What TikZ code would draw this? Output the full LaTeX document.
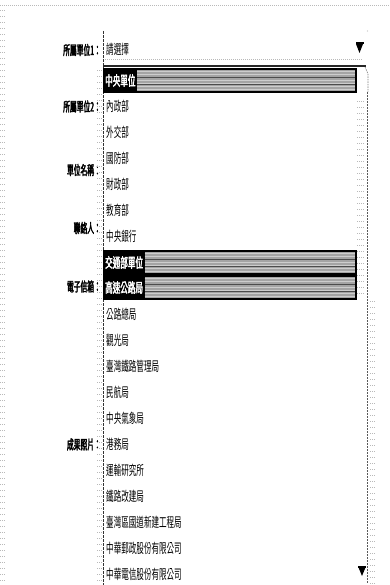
\documentclass[tikz,border=0pt]{standalone}
\usepackage{fontspec}
\newfontfamily\cjk[FakeStretch=0.56]{Noto Sans CJK TC}
\newfontfamily\cjkb[FakeStretch=0.52,FakeBold=2.5]{Noto Sans CJK TC}
\newfontfamily\cjkbb[FakeStretch=0.56,FakeBold=2.5]{Noto Sans CJK TC}
\definecolor{bandgray}{HTML}{A4A4A4}
\definecolor{bandlite}{HTML}{CDCDCD}
\tikzset{
  item/.style={anchor=west, inner sep=0pt, font=\cjk\fontsize{13.5}{13.5}\selectfont},
  lab/.style={anchor=east, inner sep=0pt, font=\cjkb\fontsize{13}{13}\selectfont},
  bandtext/.style={anchor=west, inner sep=0pt, text=white, font=\cjkbb\fontsize{13.5}{13.5}\selectfont},
  faint/.style={gray!55, line width=0.5pt, dash pattern=on 1pt off 1pt},
  border/.style={black!80, line width=0.8pt, dash pattern=on 3pt off 1pt},
}
\newcommand{\band}[2]{%
  \fill[black] (103,#1) rectangle (357,#1+25);
  \node[bandtext] (#2) at (105,#1+12.5) {\csname bandlabel#2\endcsname};
  \fill[bandgray] ([xshift=1.5pt]#2.east |- 0,#1+2) rectangle (355,#1+23);
  \foreach \k in {0,1,...,6}{
    \draw[bandlite, line width=0.7pt] ([xshift=1.5pt]#2.east |- 0,#1+3.5+\k*3) -- (355,#1+3.5+\k*3);
  }
  \draw[black!70, line width=0.7pt] ([xshift=1.5pt]#2.east |- 0,#1+9) -- (355,#1+9);
  \draw[black!70, line width=0.7pt] ([xshift=1.5pt]#2.east |- 0,#1+16) -- (355,#1+16);
}
\def\bandlabelbA{中央單位}
\def\bandlabelbB{交通部單位}
\def\bandlabelbC{高速公路局}
\begin{document}
\begin{tikzpicture}[x=1pt,y=-1pt]
\useasboundingbox (0,0) rectangle (390,585);
\fill[white] (0,0) rectangle (390,585);
% page frame
\draw[faint] (0,5) -- (390,5);
\foreach \y in {10,16,...,585}{ \draw[faint] (0,\y) -- (5,\y); }
% labels
\node[lab] (l1) at (101,50) {所屬單位1：};
\node[lab] (l2) at (101,106.5) {所屬單位2：};
\node[lab] (l3) at (101,170) {單位名稱：};
\node[lab] (l4) at (101,228) {聯絡人：};
\node[lab] (l5) at (101,286.5) {電子信箱：};
\node[lab] (l6) at (101,444.5) {成果照片：};
% combo box
\node[item] (sel) at (106,49) {請選擇};
\draw[faint] (105,59.5) -- (363,59.5);
\fill[gray!50] (367.5,31) circle (0.6pt);
\fill[black] (355.5,42.5) rectangle (363.5,44);
\fill[black] (356,44) -- (363,44) -- (359.5,53) -- cycle;
% list frame
\foreach \y in {70,76,...,585}{ \draw[faint] (97,\y) -- (101.5,\y); }
\draw[border] (103.5,31) -- (103.5,585);
\draw[black!85, line width=1.5pt] (103,66) -- (366,66);
\draw[gray, line width=0.6pt, dash pattern=on 1.5pt off 1pt] (365,67) -- (368,74) -- (368,92);
% scrollbar
\draw[gray!70!black, line width=0.8pt, dash pattern=on 2pt off 1pt] (367.5,92) -- (367.5,583);
\foreach \y in {101,107,...,295}{ \draw[faint] (357,\y) -- (365,\y); }
\foreach \y in {301,307,...,583}{ \draw[faint] (370,\y) -- (374.5,\y); }
\fill[black] (358,566) rectangle (366,567.5);
\fill[black] (358.5,567.5) -- (365.5,567.5) -- (362,576) -- cycle;
% highlighted rows
\band{68}{bA}
\band{250}{bB}
\band{275}{bC}
% list items
\node[item] (i1) at (106,106.5) {內政部};
\node[item] (i2) at (106,132.5) {外交部};
\node[item] (i3) at (106,158.5) {國防部};
\node[item] (i4) at (106,184.5) {財政部};
\node[item] (i5) at (106,210.5) {教育部};
\node[item] (i6) at (106,236.5) {中央銀行};
\node[item] (i9) at (106,314.5) {公路總局};
\node[item] (i10) at (106,340.5) {觀光局};
\node[item] (i11) at (106,366.5) {臺灣鐵路管理局};
\node[item] (i12) at (106,392.5) {民航局};
\node[item] (i13) at (106,418.5) {中央氣象局};
\node[item] (i14) at (106,444.5) {港務局};
\node[item] (i15) at (106,470.5) {運輸研究所};
\node[item] (i16) at (106,496.5) {鐵路改建局};
\node[item] (i17) at (106,522.5) {臺灣區國道新建工程局};
\node[item] (i18) at (106,548.5) {中華郵政股份有限公司};
\node[item] (i19) at (106,574.5) {中華電信股份有限公司};
\end{tikzpicture}
\end{document}
